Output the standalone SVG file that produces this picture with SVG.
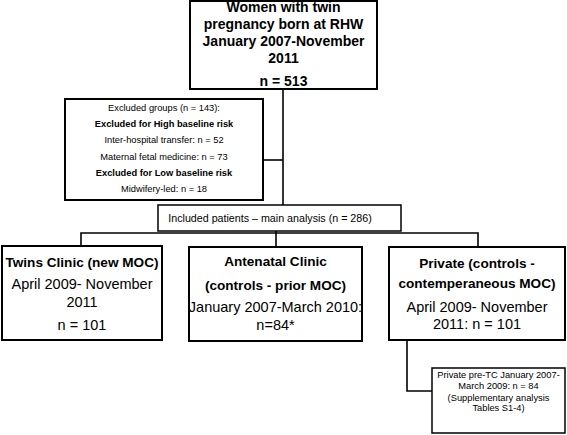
<svg xmlns="http://www.w3.org/2000/svg" width="567" height="435" viewBox="0 0 567 435">
<style>
.box{fill:#fff;stroke:#000;stroke-width:2}
.thin{fill:#fff;stroke:#000;stroke-width:1.5}
.conn{fill:none;stroke:#000;stroke-width:1.6}
text{font-family:"Liberation Sans",Arial,sans-serif;fill:#000;text-anchor:middle}
.b{font-weight:bold}
.t14{font-size:14px}
.t13{font-size:13.6px}
.r14{font-size:14.5px}
.s9{font-size:9.3px}
.s10{font-size:10.7px}
</style>
<rect width="567" height="435" fill="#fff"/>
<g id="connectors">
<path class="conn" d="M283 89 V205"/>
<path class="conn" d="M263 160 H283"/>
<path class="conn" d="M276 231 V247"/>
<path class="conn" d="M81 246 V233 H478 V247"/>
<path class="conn" d="M407 340 V391 H432"/>
</g>
<g id="n-top">
<rect class="box" x="190" y="1" width="187" height="88"/>
<text class="b t14" x="283.5" y="12">Women with twin</text>
<text class="b t14" x="283.5" y="29">pregnancy born at RHW</text>
<text class="b t14" x="283.5" y="46">January 2007-November</text>
<text class="b t14" x="283.5" y="63">2011</text>
<text class="b t14" x="283.5" y="86">n = 513</text>
</g>
<g id="n-excluded">
<rect class="box" x="65" y="99" width="198" height="101"/>
<text class="s9" x="164" y="111">Excluded groups (n = 143):</text>
<text class="s9 b" x="164" y="127">Excluded for High baseline risk</text>
<text class="s9" x="164" y="143">Inter-hospital transfer: n = 52</text>
<text class="s9" x="164" y="160">Maternal fetal medicine: n = 73</text>
<text class="s9 b" x="164" y="176">Excluded for Low baseline risk</text>
<text class="s9" x="164" y="192">Midwifery-led: n = 18</text>
</g>
<g id="n-included">
<rect class="thin" x="158" y="205" width="243" height="26"/>
<text class="s10" x="270" y="222">Included patients – main analysis (n = 286)</text>
</g>
<g id="n-twins">
<rect class="box" x="2" y="246" width="160" height="94"/>
<text class="b t13" x="82" y="267">Twins Clinic (new MOC)</text>
<text class="r14" x="82" y="289">April 2009- November</text>
<text class="r14" x="82" y="307">2011</text>
<text class="r14" x="82" y="330">n = 101</text>
</g>
<g id="n-antenatal">
<rect class="box" x="189" y="247" width="173" height="94"/>
<text class="b t13" x="275.5" y="266">Antenatal Clinic</text>
<text class="b t13" x="275.5" y="290">(controls - prior MOC)</text>
<text class="r14" x="275.5" y="312">January 2007-March 2010:</text>
<text class="r14" x="275.5" y="330">n=84*</text>
</g>
<g id="n-private">
<rect class="box" x="389" y="247" width="176" height="93"/>
<text class="b t13" x="477" y="268">Private (controls -</text>
<text class="b t13" x="477" y="288">contemperaneous MOC)</text>
<text class="r14" x="477" y="312">April 2009- November</text>
<text class="r14" x="477" y="329">2011: n = 101</text>
</g>
<g id="n-pretc">
<rect class="thin" x="432" y="368" width="133" height="65"/>
<text class="s9" x="498.5" y="378">Private pre-TC January 2007-</text>
<text class="s9" x="498.5" y="389">March 2009: n = 84</text>
<text class="s9" x="498.5" y="401">(Supplementary analysis</text>
<text class="s9" x="498.5" y="411">Tables S1-4)</text>
</g>
</svg>
